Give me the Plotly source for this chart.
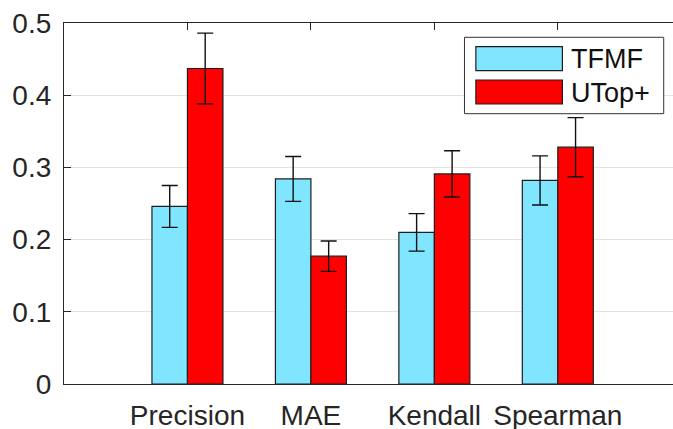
import plotly.graph_objects as go

# Metrics compared and the two methods
categories = ["Precision", "MAE", "Kendall", "Spearman"]
series_names = ["TFMF", "UTop+"]

# Mean scores per metric
tfmf_values = [0.246, 0.284, 0.210, 0.282]
utop_values = [0.437, 0.177, 0.291, 0.328]

# Half-width of the error bars
tfmf_errors = [0.029, 0.031, 0.026, 0.034]
utop_errors = [0.049, 0.021, 0.032, 0.041]

y_ticks = [0, 0.1, 0.2, 0.3, 0.4, 0.5]

W, H = 673, 429
ML, MR, MT, MB = 63.5, 0, 23, 45
colors = ["#80E5FF", "#FF0000"]
edge = "#1E1E1E"
axis_col = "#262626"
FONT = "Liberation Sans, Arial, Helvetica, sans-serif"

xpos = list(range(1, len(categories) + 1))

fig = go.Figure()
for name, vals, errs, col in zip(series_names, [tfmf_values, utop_values],
                                 [tfmf_errors, utop_errors], colors):
    fig.add_trace(go.Bar(
        x=xpos, y=vals, name=name,
        marker=dict(color=col, line=dict(color=edge, width=1.2)),
        error_y=dict(type="data", array=errs, visible=True,
                     color="#111111", thickness=1.4, width=8),
        showlegend=False,
    ))

# Legend box drawn with shapes so the colour patches are wide like the bars
pw = W - ML - MR
ph = H - MT - MB


def px(x):
    return (x - ML) / pw


def py(y):
    return (H - MB - y) / ph


shapes = [dict(type="rect", xref="paper", yref="paper",
               x0=px(464.3), x1=px(663.7), y0=py(113.7), y1=py(37.3),
               line=dict(color="#333333", width=1), fillcolor="white", layer="above")]
annotations = []
rows = [(46.7, 70.7), (80.0, 104.0)]
for (top, bot), name, col in zip(rows, series_names, colors):
    shapes.append(dict(type="rect", xref="paper", yref="paper",
                       x0=px(475.7), x1=px(562.3), y0=py(bot), y1=py(top),
                       line=dict(color=edge, width=1.2), fillcolor=col, layer="above"))
    annotations.append(dict(xref="paper", yref="paper", x=px(569), y=py((top + bot) / 2 + 0.5),
                            text=name, showarrow=False, xanchor="left", yanchor="middle",
                            font=dict(family=FONT, size=27, color="#111111")))

fig.update_layout(
    width=W, height=H,
    margin=dict(l=ML, r=MR, t=MT, b=MB, pad=0, autoexpand=False),
    paper_bgcolor="white", plot_bgcolor="white",
    barmode="group", bargap=0.425, bargroupgap=0,
    shapes=shapes, annotations=annotations,
    font=dict(family=FONT, size=28, color=axis_col),
)
fig.update_xaxes(
    range=[0, 4.933], tickvals=xpos, ticktext=categories, automargin=False,
    showline=True, linecolor=axis_col, linewidth=1.2, mirror="ticks",
    ticks="inside", ticklen=7, tickcolor=axis_col, tickwidth=1.2,
    showgrid=False, zeroline=False, ticklabelstandoff=6,
    tickfont=dict(family=FONT, size=28, color=axis_col),
)
fig.update_yaxes(
    range=[0, 0.5], tickvals=y_ticks, ticktext=[f"{v:g}" for v in y_ticks], automargin=False,
    showline=True, linecolor=axis_col, linewidth=1.2, mirror=False,
    ticks="inside", ticklen=7, tickcolor=axis_col, tickwidth=1.2,
    showgrid=True, gridcolor="#E3E3E3", gridwidth=1, zeroline=False,
    ticklabelstandoff=6,
    tickfont=dict(family=FONT, size=28, color=axis_col),
)

fig.write_html("out.html")
